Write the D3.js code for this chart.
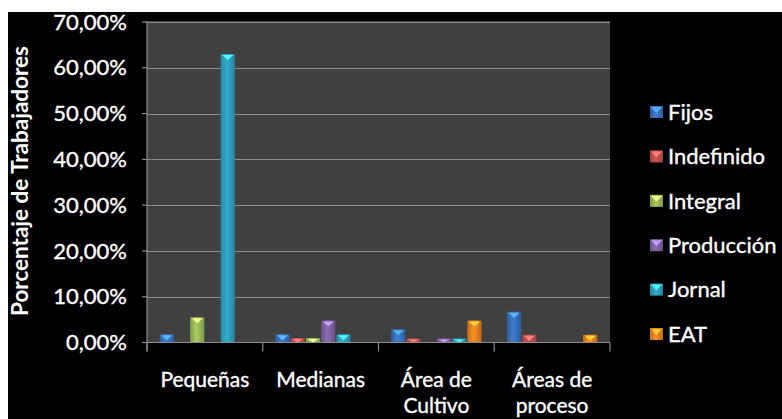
<!DOCTYPE html>
<html>
<head>
<meta charset="utf-8">
<script src="https://cdn.jsdelivr.net/npm/d3@7"></script>
<style>
  html, body { margin: 0; padding: 0; background: #fff; }
  svg { display: block; }
  text { font-family: Lato, "Open Sans", sans-serif; fill: #fff; stroke: #fff; stroke-width: 0.35px; }
</style>
</head>
<body>
<svg id="chart" width="782" height="419"></svg>
<script>
const categories = [["Pequeñas"], ["Medianas"], ["Área de", "Cultivo"], ["Áreas de", "proceso"]];
const series = ["Fijos", "Indefinido", "Integral", "Producción", "Jornal", "EAT"];
const fijos      = [1.8, 1.8, 2.9, 6.7];
const indefinido = [0,   1.0, 0.9, 1.7];
const integral   = [5.5, 1.0, 0,   0  ];
const produccion = [0,   4.8, 0.9, 0  ];
const jornal     = [63.0, 1.8, 0.9, 0 ];
const eat        = [0,   0,   4.8, 1.7];
const yTicks = [0, 10, 20, 30, 40, 50, 60, 70];
const colors = ["#3a72bd", "#c0504d", "#9bbb59", "#8064a2", "#2fa0be", "#e8841f"];

const values = [fijos, indefinido, integral, produccion, jornal, eat];
const catKeys = categories.map(c => c.join(" "));

const svg = d3.select("#chart");
svg.append("rect").attr("x", 8).attr("y", 12).attr("width", 774).attr("height", 407).attr("fill", "#000");

const pLeft = 147, pRight = 610, pTop = 22, pBottom = 342.5;
const x0 = d3.scaleBand().domain(catKeys).range([pLeft, pRight]).padding(0);
const x1 = d3.scaleBand().domain(series).range([0, x0.bandwidth()]).paddingInner(0).paddingOuter(0.8);
const y = d3.scaleLinear().domain([0, 70]).range([pBottom, pTop]);

svg.append("rect").attr("x", pLeft).attr("y", pTop - 1).attr("width", pRight - pLeft).attr("height", pBottom - pTop + 1).attr("fill", "#404040");

svg.append("g").selectAll("line").data(yTicks.filter(d => d > 0)).join("line")
  .attr("x1", pLeft).attr("x2", pRight)
  .attr("y1", d => Math.round(y(d)) + 0.5).attr("y2", d => Math.round(y(d)) + 0.5)
  .attr("stroke", "#8c8c8c").attr("stroke-width", 1.2);

const defs = svg.append("defs");
colors.forEach((c, i) => {
  const g = defs.append("linearGradient").attr("id", "g" + i).attr("x1", "0").attr("x2", "1").attr("y1", "0").attr("y2", "0");
  const cc = d3.color(c);
  g.append("stop").attr("offset", "0%").attr("stop-color", cc.darker(0.5));
  g.append("stop").attr("offset", "45%").attr("stop-color", cc.brighter(0.25));
  g.append("stop").attr("offset", "100%").attr("stop-color", cc.darker(0.6));
});

const groups = svg.append("g").selectAll("g").data(catKeys).join("g")
  .attr("transform", d => `translate(${x0(d)},0)`);
groups.each(function(cat, ci) {
  const g = d3.select(this);
  series.forEach((s, si) => {
    const v = values[si][ci];
    if (v <= 0) return;
    const bx = x1(s), bw = x1.bandwidth();
    const yt = y(v), h = pBottom - yt;
    g.append("rect").attr("x", bx + 0.5).attr("y", yt).attr("width", bw - 1).attr("height", h)
      .attr("fill", `url(#g${si})`).attr("rx", 1);
    const th = Math.min(5, h * 0.7);
    g.append("path")
      .attr("d", `M${bx + 2},${yt + 1} L${bx + bw - 2},${yt + 1} L${bx + bw / 2},${yt + 1 + th} Z`)
      .attr("fill", d3.color(colors[si]).brighter(1.3));
  });
});

const axG = svg.append("g").attr("stroke", "#8c8c8c").attr("stroke-width", 1.2);
axG.append("line").attr("x1", pLeft).attr("x2", pLeft).attr("y1", pTop - 1).attr("y2", pBottom + 9);
axG.append("line").attr("x1", pLeft).attr("x2", pRight).attr("y1", pBottom).attr("y2", pBottom);
axG.selectAll("line.ct").data(d3.range(catKeys.length + 1)).join("line").attr("class", "ct")
  .attr("x1", i => pLeft + i * x0.step()).attr("x2", i => pLeft + i * x0.step())
  .attr("y1", pBottom).attr("y2", pBottom + 9);
axG.selectAll("line.yt").data(yTicks).join("line").attr("class", "yt")
  .attr("x1", pLeft - 5).attr("x2", pLeft).attr("y1", d => y(d)).attr("y2", d => y(d));

svg.append("g").selectAll("text").data(yTicks).join("text")
  .attr("x", 127).attr("y", d => y(d)).attr("dy", "0.35em")
  .attr("text-anchor", "end").attr("font-size", 22)
  .text(d => d3.format(".2f")(d).replace(".", ",") + "%");

svg.append("text").attr("transform", "translate(28,181) rotate(-90)")
  .attr("text-anchor", "middle").attr("font-size", 22.5).attr("font-weight", "bold").style("stroke-width", "0")
  .text("Porcentaje de Trabajadores");

categories.forEach((lines, i) => {
  const cx = x0(catKeys[i]) + x0.bandwidth() / 2;
  const t = svg.append("text").attr("text-anchor", "middle").attr("font-size", 21)
    .attr("x", cx).attr("y", 387);
  lines.forEach((l, li) => t.append("tspan").attr("x", cx).attr("dy", li === 0 ? 0 : 25.6).text(l));
});

const lg = svg.append("g").selectAll("g").data(series).join("g")
  .attr("transform", (d, i) => `translate(650,${112 + i * 44.4})`);
lg.append("rect").attr("x", 0).attr("y", -6).attr("width", 13).attr("height", 12).attr("fill", (d, i) => `url(#g${i})`);
lg.append("path").attr("d", "M1,-5 L12,-5 L6.5,1 Z").attr("fill", (d, i) => d3.color(colors[i]).brighter(1.2));
lg.append("text").attr("x", 18).attr("dy", "0.35em").attr("font-size", 22).text(d => d);
</script>
</body>
</html>
